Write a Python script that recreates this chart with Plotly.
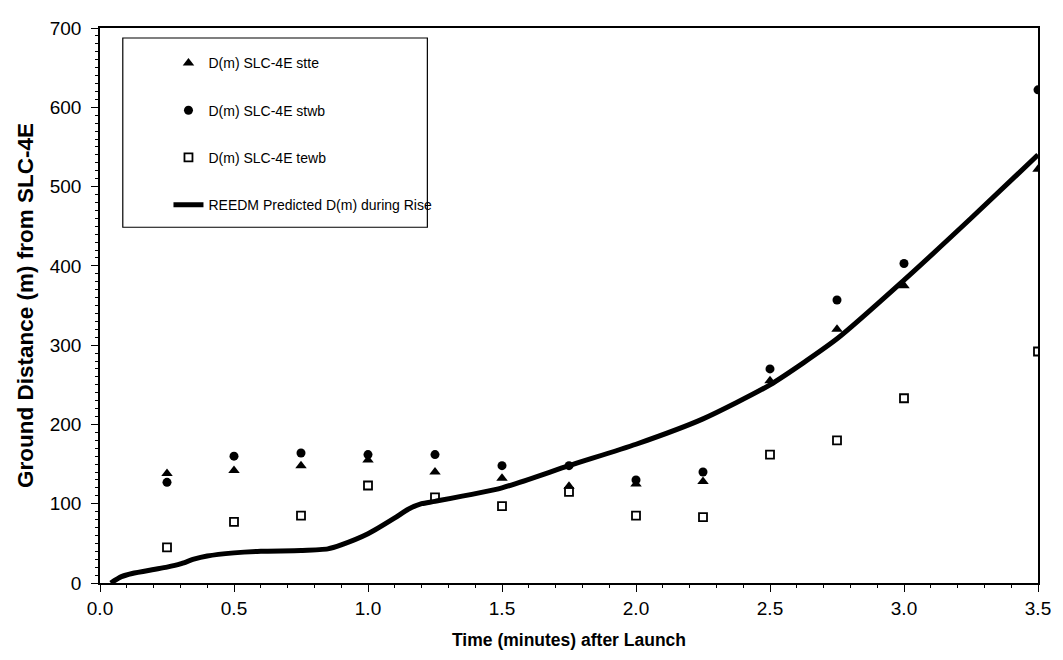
import plotly.graph_objects as go

# Observation times (minutes after launch)
t_obs = [0.25, 0.5, 0.75, 1.0, 1.25, 1.5, 1.75, 2.0, 2.25, 2.5, 2.75, 3.0, 3.5]

# Measured ground distance (m) from SLC-4E for each station pair
d_stte = [138, 142, 148, 155, 140, 132, 122, 125, 128, 255, 320, 375, 522]
d_stwb = [127, 160, 164, 162, 162, 148, 148, 130, 140, 270, 357, 403, 622]
d_tewb = [45, 77, 85, 123, 108, 97, 115, 85, 83, 162, 180, 233, 292]

# REEDM predicted ground distance during cloud rise
t_model = [0.04, 0.08, 0.12, 0.2, 0.25, 0.3, 0.35, 0.4, 0.5, 0.6, 0.75, 0.85,
           0.9, 1.0, 1.1, 1.15, 1.2, 1.25, 1.5, 1.75, 2.0, 2.25, 2.5, 2.75,
           3.0, 3.25, 3.5]
d_model = [0, 8, 12, 17, 20, 24, 30, 34, 38, 40, 41, 43,
           48, 62, 82, 93, 100, 103, 120, 148, 175, 207, 250, 308,
           382, 460, 540]

# Axis tick labels
x_ticks = [0, 0.5, 1.0, 1.5, 2.0, 2.5, 3.0, 3.5]
x_ticktext = ["0.0", "0.5", "1.0", "1.5", "2.0", "2.5", "3.0", "3.5"]

FONT = "Liberation Sans, Arial, sans-serif"

fig = go.Figure()
fig.add_trace(go.Scatter(
    x=t_obs, y=d_stte, mode="markers", name="D(m) SLC-4E stte",
    legendgroup="a",
    marker=dict(symbol="triangle-up", size=10, color="black")))
fig.add_trace(go.Scatter(
    x=t_obs, y=d_stwb, mode="markers", name="D(m) SLC-4E stwb",
    legendgroup="b",
    marker=dict(symbol="circle", size=9, color="black")))
fig.add_trace(go.Scatter(
    x=t_obs, y=d_tewb, mode="markers", name="D(m) SLC-4E tewb",
    legendgroup="c",
    marker=dict(symbol="square-open", size=8, color="black",
                line=dict(width=1.8, color="black"))))
fig.add_trace(go.Scatter(
    x=t_model, y=d_model, mode="lines", name="REEDM Predicted D(m) during Rise",
    legendgroup="d",
    line=dict(color="black", width=5, shape="spline", smoothing=0.6)))

# Legend frame
fig.add_shape(type="rect", xref="paper", yref="paper",
              x0=0.0243, x1=0.349, y0=0.641, y1=0.982,
              line=dict(color="black", width=1.2), fillcolor="rgba(0,0,0,0)",
              layer="below")

fig.update_layout(
    width=1063, height=660,
    margin=dict(l=100, r=18, t=28, b=77),
    paper_bgcolor="white", plot_bgcolor="white",
    font=dict(family=FONT, color="black", size=16),
    showlegend=True,
    legend=dict(x=0.073, y=0.965, xanchor="left", yanchor="top",
                bgcolor="rgba(0,0,0,0)", borderwidth=0,
                font=dict(family=FONT, size=14, color="black"),
                tracegroupgap=26, itemwidth=30),
    xaxis=dict(
        range=[0, 3.5], tickvals=x_ticks, ticktext=x_ticktext,
        showgrid=False, zeroline=False,
        showline=True, linecolor="black", linewidth=1.5, mirror=True,
        ticks="outside", ticklen=7, tickwidth=1.2, tickcolor="black",
        minor=dict(dtick=0.1, ticks="outside", ticklen=3, tickcolor="black", tickwidth=1),
        tickfont=dict(size=19), ticklabelstandoff=0,
        title=dict(text="<b>Time (minutes) after Launch</b>", font=dict(size=17.5), standoff=16)),
    yaxis=dict(
        range=[0, 700], dtick=100,
        showgrid=False, zeroline=False,
        showline=True, linecolor="black", linewidth=1.5, mirror=True,
        ticks="outside", ticklen=7, tickwidth=1.2, tickcolor="black",
        minor=dict(dtick=10, ticks="outside", ticklen=3, tickcolor="black", tickwidth=1),
        tickfont=dict(size=19), ticklabelstandoff=6,
        title=dict(text="<b>Ground Distance (m) from SLC-4E</b>", font=dict(size=22.5), standoff=10)),
)

fig.write_html("out.html")
